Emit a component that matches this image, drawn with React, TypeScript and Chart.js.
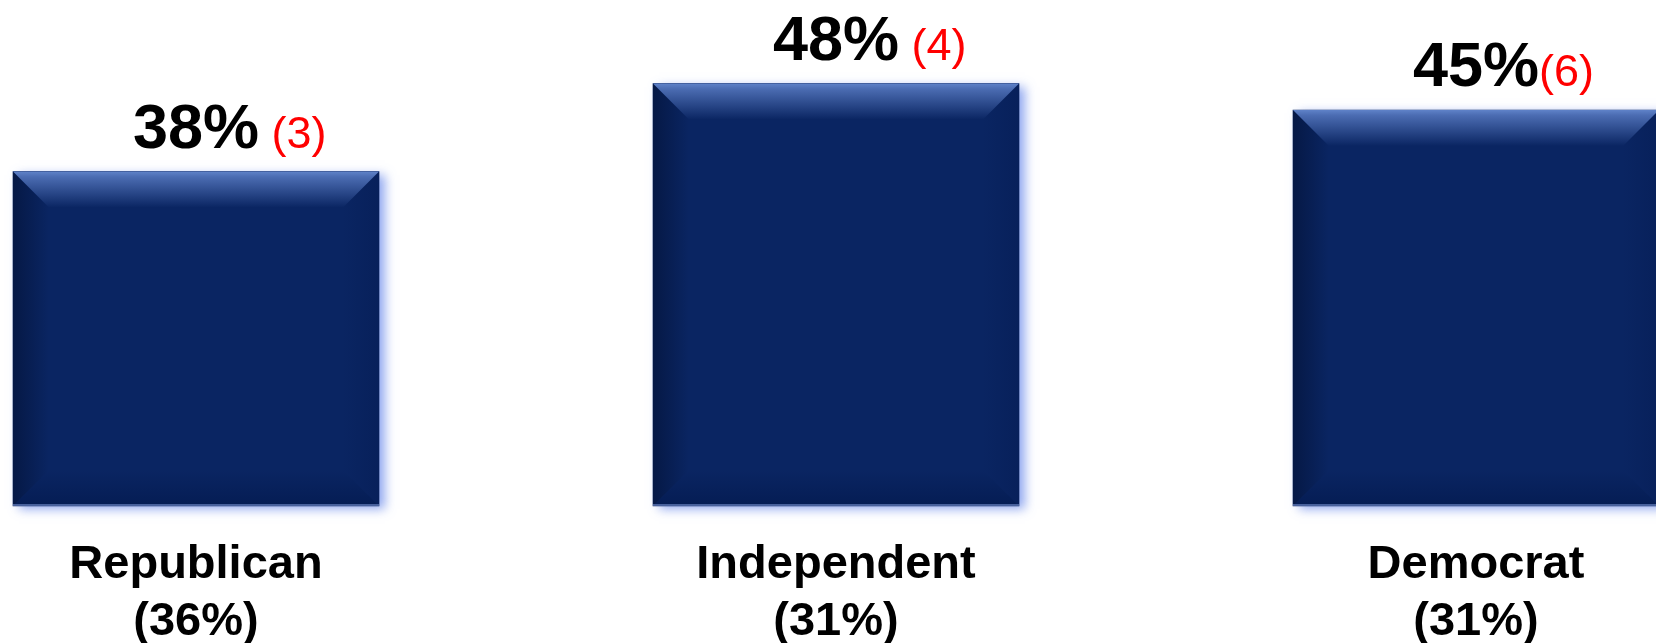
import React, { useEffect, useRef } from "react";
import { Chart, registerables } from "chart.js";

Chart.register(...registerables);

const categories = ["Republican", "Independent", "Democrat"];
const categoryShares = ["(36%)", "(31%)", "(31%)"];
const values = [38, 48, 45];
const valueLabels = ["38%", "48%", "45%"];
const countLabels = [" (3)", " (4)", "(6)"];

const FONT = "'Liberation Sans', Arial, Helvetica, sans-serif";
const NAVY = "#0a2562";

const bevelPlugin = {
  id: "bevel",
  beforeDatasetsDraw(chart: any) {
    const ctx = chart.ctx;
    const meta = chart.getDatasetMeta(0);
    ctx.save();
    meta.data.forEach((bar: any) => {
      const L = bar.x - bar.width / 2;
      const T = bar.y;
      const B = bar.base;
      const W = bar.width;
      ctx.shadowColor = "rgba(110,140,235,0.75)";
      ctx.shadowBlur = 10;
      ctx.shadowOffsetX = 6;
      ctx.shadowOffsetY = 3;
      ctx.fillStyle = NAVY;
      ctx.fillRect(L, T, W, B - T);
    });
    ctx.restore();
  },
  afterDatasetsDraw(chart: any) {
    const ctx = chart.ctx;
    const meta = chart.getDatasetMeta(0);
    const b = 36;
    meta.data.forEach((bar: any) => {
      const L = bar.x - bar.width / 2;
      const R = bar.x + bar.width / 2;
      const T = bar.y;
      const B = bar.base;
      ctx.save();
      let g = ctx.createLinearGradient(L, 0, L + b, 0);
      g.addColorStop(0, "rgba(2,16,50,0.6)");
      g.addColorStop(1, "rgba(2,16,50,0)");
      ctx.fillStyle = g;
      ctx.beginPath();
      ctx.moveTo(L, T);
      ctx.lineTo(L + b, T + b);
      ctx.lineTo(L + b, B - b);
      ctx.lineTo(L, B);
      ctx.closePath();
      ctx.fill();
      g = ctx.createLinearGradient(R, 0, R - b, 0);
      g.addColorStop(0, "rgba(5,25,80,0.4)");
      g.addColorStop(1, "rgba(5,25,80,0)");
      ctx.fillStyle = g;
      ctx.beginPath();
      ctx.moveTo(R, T);
      ctx.lineTo(R - b, T + b);
      ctx.lineTo(R - b, B - b);
      ctx.lineTo(R, B);
      ctx.closePath();
      ctx.fill();
      g = ctx.createLinearGradient(0, T, 0, T + b);
      g.addColorStop(0, "rgba(95,130,200,1)");
      g.addColorStop(0.15, "rgba(75,108,178,1)");
      g.addColorStop(1, "rgba(10,37,98,1)");
      ctx.fillStyle = g;
      ctx.beginPath();
      ctx.moveTo(L, T);
      ctx.lineTo(R, T);
      ctx.lineTo(R - b, T + b);
      ctx.lineTo(L + b, T + b);
      ctx.closePath();
      ctx.fill();
      g = ctx.createLinearGradient(0, B, 0, B - b);
      g.addColorStop(0, "rgba(0,20,70,0.5)");
      g.addColorStop(1, "rgba(0,20,70,0)");
      ctx.fillStyle = g;
      ctx.beginPath();
      ctx.moveTo(L, B);
      ctx.lineTo(R, B);
      ctx.lineTo(R - b, B - b);
      ctx.lineTo(L + b, B - b);
      ctx.closePath();
      ctx.fill();
      ctx.fillStyle = "rgba(80,105,165,0.9)";
      ctx.fillRect(L, B - 2, R - L, 2);
      ctx.restore();
    });
  },
};

const labelPlugin = {
  id: "labels",
  afterDraw(chart: any) {
    const ctx = chart.ctx;
    const meta = chart.getDatasetMeta(0);
    const xScale = chart.scales.x;
    ctx.save();
    meta.data.forEach((bar: any, i: number) => {
      const cx = xScale.getPixelForValue(i);
      ctx.textBaseline = "alphabetic";
      ctx.font = `bold 63px ${FONT}`;
      ctx.fillStyle = "#000000";
      ctx.textAlign = "center";
      const base = bar.y - 24;
      ctx.fillText(valueLabels[i], cx, base);
      const w = ctx.measureText(valueLabels[i]).width;
      ctx.font = `45px ${FONT}`;
      ctx.fillStyle = "#ff0000";
      ctx.textAlign = "left";
      ctx.fillText(countLabels[i], cx + w / 2, base);

      ctx.font = `bold 47px ${FONT}`;
      ctx.fillStyle = "#000000";
      ctx.textAlign = "center";
      const b0 = bar.base + 72;
      ctx.fillText(categories[i], cx, b0);
      ctx.fillText(categoryShares[i], cx, b0 + 57);
    });
    ctx.restore();
  },
};

export default function App() {
  const ref = useRef<HTMLCanvasElement>(null);
  useEffect(() => {
    if (!ref.current) return;
    const chart = new Chart(ref.current, {
      type: "bar",
      data: {
        labels: categories,
        datasets: [
          {
            data: values,
            backgroundColor: NAVY,
            borderWidth: 0,
            barThickness: 366,
            clip: false as any,
          },
        ],
      },
      options: {
        animation: false,
        responsive: true,
        maintainAspectRatio: false,
        layout: { padding: { left: 196, right: 180, top: 22, bottom: 137 } },
        plugins: { legend: { display: false }, tooltip: { enabled: false } },
        scales: {
          x: { display: false, offset: false, grid: { display: false } },
          y: { display: false, min: 0, max: 55, grid: { display: false } },
        },
      },
      plugins: [bevelPlugin, labelPlugin],
    });
    return () => chart.destroy();
  }, []);
  return (
    <div style={{ position: "absolute", left: 0, top: 0, width: 1656, height: 643, background: "#fff" }}>
      <canvas ref={ref} />
    </div>
  );
}
